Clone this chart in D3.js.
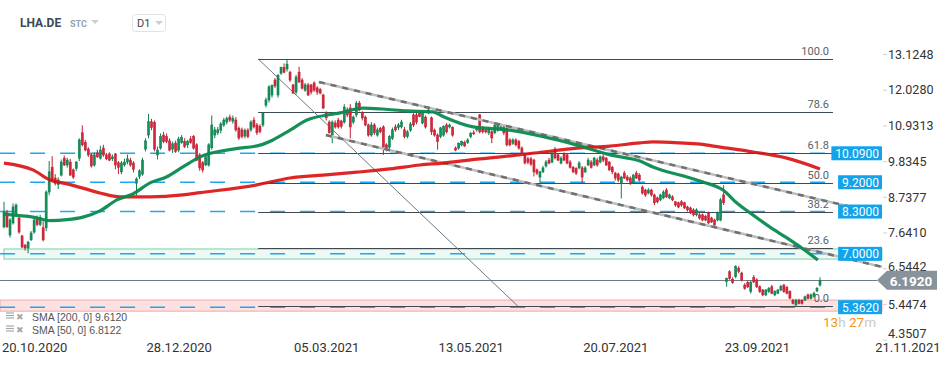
<!DOCTYPE html>
<html>
<head>
<meta charset="utf-8">
<script src="https://cdn.jsdelivr.net/npm/d3@7"></script>
<style>
  body { margin: 0; background: #fff; }
  svg { display: block; font-family: Roboto, "Noto Sans", sans-serif; }
</style>
</head>
<body>
<svg class="chart" width="950" height="365"></svg>
<script>
// daily candles LHA.DE, [open, high, low, close]
var candles = [
  [7.83,8.60,7.78,8.29],[8.26,8.35,7.80,7.83],[7.58,8.10,7.50,8.04],[7.95,8.55,7.90,8.44],[8.20,8.55,8.15,8.50],
  [8.10,8.15,7.62,7.67],[7.55,7.58,7.18,7.21],[7.27,7.30,7.10,7.18],[7.18,7.40,7.02,7.36],[7.43,7.70,7.40,7.64],
  [7.67,8.10,7.62,8.04],[8.10,8.18,7.85,7.90],[7.90,8.20,7.85,8.12],[7.80,8.00,7.38,7.43],[7.80,8.95,7.70,8.90],
  [8.90,9.85,8.80,9.52],[9.66,10.00,9.20,9.27],[9.33,9.45,9.10,9.17],[9.13,9.35,8.99,9.27],[9.42,9.90,9.38,9.82],
  [9.94,10.02,9.70,9.73],[9.73,9.95,9.65,9.88],[9.82,9.92,9.40,9.42],[9.58,9.62,9.30,9.36],[9.63,9.85,9.55,9.82],
  [9.94,10.55,9.85,10.50],[10.72,10.95,10.30,10.35],[10.42,10.50,10.15,10.19],[10.22,10.28,9.98,10.04],[10.04,10.10,9.65,9.70],
  [9.73,10.12,9.68,10.04],[10.10,10.20,9.95,9.98],[9.94,10.32,9.90,10.19],[10.25,10.35,9.98,10.04],[10.04,10.10,9.88,9.92],
  [10.07,10.12,9.85,9.88],[9.92,10.05,9.85,9.98],[10.07,10.10,9.60,9.73],[9.80,9.85,9.45,9.66],[9.52,9.85,9.45,9.79],
  [9.73,9.92,9.68,9.82],[9.82,10.05,9.75,9.92],[9.88,9.95,9.68,9.73],[9.79,9.85,9.50,9.60],[9.17,9.35,8.80,9.30],
  [9.38,9.60,9.30,9.55],[9.45,9.95,9.40,9.88],[10.22,10.55,10.15,10.47],[10.65,11.30,10.55,11.06],[11.06,11.15,10.80,10.88],
  [11.03,11.10,10.15,10.22],[10.04,10.30,9.90,10.19],[10.25,10.70,10.20,10.60],[10.65,10.75,10.40,10.45],[10.60,10.70,10.40,10.45],
  [10.47,10.55,10.15,10.19],[10.22,10.45,10.10,10.38],[10.40,10.48,10.10,10.15],[10.19,10.60,10.12,10.53],[10.42,10.65,10.38,10.57],
  [10.45,10.55,10.25,10.30],[10.35,10.50,10.25,10.45],[10.53,10.62,10.38,10.42],[10.60,10.65,10.20,10.25],
  [10.35,10.40,9.85,9.88],[10.04,10.10,9.55,9.64],[9.80,9.85,9.50,9.58],[9.73,10.05,9.70,9.98],[9.73,10.40,9.68,10.35],
  [10.26,11.25,10.20,10.96],[10.65,10.90,10.55,10.81],[10.72,10.90,10.65,10.81],[10.80,11.05,10.70,10.99],[10.96,11.18,10.90,11.11],
  [11.05,11.22,10.98,11.16],[11.20,11.28,11.05,11.11],[11.08,11.25,11.00,11.16],[11.11,11.20,10.75,10.81],[10.86,10.92,10.50,10.56],
  [10.81,10.88,10.55,10.60],[10.62,10.85,10.55,10.80],[10.80,10.86,10.55,10.60],[10.81,11.10,10.75,11.05],[11.11,11.20,10.85,10.90],
  [10.96,11.02,10.65,10.72],[10.92,10.98,10.70,10.76],[10.96,11.35,10.90,11.32],[11.57,11.80,11.50,11.73],[11.73,12.18,11.65,12.13],
  [11.88,12.20,11.80,12.18],[12.34,12.40,12.10,12.16],[11.88,12.52,11.80,12.49],[12.55,12.75,12.50,12.73],[12.73,12.85,12.55,12.58],
  [12.68,12.97,12.60,12.83],[12.58,12.62,12.28,12.34],[12.19,12.22,11.92,11.94],[11.97,12.50,11.90,12.43],[12.58,12.75,12.25,12.28],
  [12.34,12.40,12.05,12.09],[12.03,12.25,11.98,12.19],[12.19,12.25,11.85,11.88],[12.19,12.22,11.90,11.97],[12.25,12.30,11.98,12.03],
  [12.10,12.15,11.88,11.97],[12.05,12.10,11.90,11.94],[11.88,11.92,11.45,11.48],[11.33,11.38,11.10,11.18],[11.05,11.10,10.70,10.72],
  [10.65,11.10,10.40,11.05],[11.02,11.10,10.85,10.90],[11.11,11.18,10.85,10.90],[11.08,11.12,10.85,10.92],[11.05,11.60,11.00,11.51],
  [11.42,11.50,11.20,11.27],[11.48,11.60,10.55,10.90],[11.05,11.25,10.98,11.20],[11.27,11.70,11.20,11.63],[11.63,11.70,11.38,11.42],
  [11.33,11.38,11.10,11.18],[11.20,11.25,10.92,10.96],[10.96,11.00,10.60,10.65],[10.65,11.05,10.60,10.96],[10.96,11.02,10.65,10.72],
  [10.65,10.88,10.60,10.81],[10.85,10.90,10.70,10.75],[10.90,10.95,10.04,10.28],[10.35,10.40,10.15,10.25],[10.28,10.65,10.20,10.60],
  [10.55,10.88,10.50,10.81],[10.90,10.98,10.75,10.81],[10.88,11.02,10.80,10.96],[10.90,11.12,10.85,11.05],[10.81,10.90,10.55,10.60],
  [10.60,10.80,10.55,10.75],[10.80,11.05,10.75,10.99],[11.27,11.32,10.90,10.96],[11.27,11.35,10.98,11.05],
  [11.33,11.40,11.20,11.22],[11.02,11.38,10.98,11.33],[11.20,11.25,10.85,10.90],[11.33,11.50,11.30,11.42],[11.18,11.22,10.65,10.75],
  [10.80,10.85,10.60,10.65],[10.65,10.70,10.20,10.45],[10.60,10.90,10.55,10.87],[10.65,10.95,10.60,10.92],[10.96,11.02,10.70,10.75],
  [10.90,11.00,10.85,10.96],[10.88,10.92,10.60,10.65],[10.25,10.30,10.15,10.19],[10.25,10.42,10.20,10.40],[10.35,10.48,10.30,10.45],
  [10.42,10.48,10.28,10.32],[10.42,10.55,10.38,10.50],[10.60,10.75,10.55,10.70],[10.72,10.80,10.65,10.69],[10.81,10.92,10.75,10.88],
  [11.27,11.30,10.70,10.75],[10.88,10.92,10.70,10.75],[10.81,10.85,10.70,10.75],[10.72,10.90,10.65,10.86],[10.75,10.80,10.40,10.56],
  [10.72,11.00,10.68,10.96],[10.80,11.00,10.75,10.96],[10.81,10.95,10.78,10.90],[10.90,10.95,10.65,10.72],[10.86,10.92,10.30,10.35],
  [10.50,10.55,10.30,10.35],[10.40,10.55,10.35,10.50],[10.50,10.55,10.30,10.35],[10.45,10.50,10.20,10.25],[10.25,10.30,10.05,10.10],
  [10.04,10.08,9.75,9.79],[9.92,9.98,9.75,9.82],[9.92,9.98,9.70,9.76],[9.88,9.92,9.38,9.52],[9.58,9.62,9.42,9.48],
  [9.36,9.55,9.18,9.52],[9.52,9.70,9.48,9.64],[9.70,9.88,9.65,9.82],[9.88,9.95,9.75,9.79],[9.82,10.15,9.78,10.07],
  [10.22,10.28,9.90,9.95],[10.04,10.08,9.85,9.88],[9.79,10.00,9.75,9.94],[10.07,10.12,9.85,9.88],[10.04,10.08,9.75,9.79],
  [9.82,9.88,9.62,9.66],[9.66,9.70,9.48,9.52],[9.62,9.66,9.42,9.48],[9.64,9.85,9.60,9.79],[9.64,9.70,9.15,9.36],
  [9.52,9.70,9.48,9.64],[9.73,9.95,9.70,9.88],[9.82,9.88,9.62,9.66],[9.73,9.98,9.70,9.94],[9.88,9.95,9.68,9.73],
  [9.82,10.02,9.78,9.98],[9.98,10.05,9.82,9.88],[9.94,9.98,9.70,9.73],[9.82,9.85,9.55,9.58],[9.66,9.70,9.45,9.52],
  [9.48,9.52,9.25,9.33],[9.45,9.50,9.20,9.27],[9.17,9.40,8.70,9.36],[9.48,9.55,9.30,9.33],[9.36,9.42,9.22,9.27],
  [9.33,9.38,9.12,9.20],[9.20,9.45,9.15,9.42],[9.48,9.55,9.30,9.33],[9.42,9.48,9.22,9.27],
  [9.05,9.10,8.82,8.87],[8.96,9.00,8.75,8.81],[8.87,9.02,8.83,8.96],[8.96,9.00,8.76,8.81],[8.81,8.85,8.50,8.57],
  [8.72,8.76,8.55,8.60],[8.66,8.85,8.62,8.81],[8.72,8.95,8.68,8.90],[8.96,9.02,8.72,8.75],[8.72,8.85,8.68,8.81],
  [8.75,8.80,8.62,8.66],[8.60,8.62,8.45,8.50],[8.57,8.60,8.40,8.44],[8.60,8.65,8.45,8.50],[8.57,8.60,8.38,8.41],
  [8.44,8.48,8.30,8.35],[8.41,8.45,8.22,8.26],[8.35,8.40,8.15,8.20],[8.20,8.40,8.15,8.35],[8.20,8.25,8.05,8.10],
  [8.20,8.24,8.00,8.04],[8.15,8.20,8.00,8.04],[8.26,8.30,7.92,7.95],[8.10,8.14,7.95,7.98],[8.04,8.08,7.85,7.89],
  [8.04,8.30,8.00,8.26],[8.04,8.72,8.00,8.66],[8.81,9.11,8.50,8.57],
  [6.15,6.27,5.99,6.25],[6.45,6.50,6.20,6.25],[6.22,6.28,6.08,6.12],[6.30,6.65,6.25,6.61],[6.56,6.62,6.40,6.46],
  [6.41,6.45,6.15,6.20],[6.04,6.10,5.90,5.94],[6.12,6.18,5.95,5.99],[5.84,6.18,5.78,6.12],[6.28,6.35,6.10,6.14],
  [6.20,6.25,5.95,5.99],[5.99,6.03,5.80,5.84],[5.89,5.92,5.70,5.74],[5.74,5.92,5.70,5.89],[5.84,5.98,5.80,5.94],
  [5.99,6.05,5.76,5.79],[5.74,5.88,5.70,5.84],[5.79,5.92,5.76,5.89],[5.89,6.05,5.85,6.00],[6.04,6.08,5.80,5.84],
  [5.97,6.02,5.76,5.79],[5.84,5.88,5.60,5.64],[5.58,5.62,5.45,5.48],[5.43,5.62,5.38,5.58],[5.58,5.62,5.45,5.48],
  [5.58,5.60,5.44,5.48],[5.58,5.72,5.55,5.68],[5.74,5.78,5.60,5.63],[5.63,5.78,5.60,5.74],[5.69,5.84,5.65,5.79],
  [5.86,5.98,5.82,5.94],[6.04,6.28,6.00,6.19]
];

// x axis: candle index of each date label
var dateIdx = [0, 48, 97, 145, 193, 240, 290];
var dateLabels = ["20.10.2020", "28.12.2020", "05.03.2021", "13.05.2021", "20.07.2021", "23.09.2021", "21.11.2021"];

// price axis
var priceTicks = [13.1248, 12.0280, 10.9313, 9.8345, 8.7377, 7.6410, 6.5442, 5.4474, 4.3507];

// moving averages, sampled by candle index
var sma200Idx = [0, 9.6, 15.3, 20.9, 26.2, 31.9, 38.5, 48.5, 59.4, 65.1, 84, 95, 105.9, 117.2, 128.2, 138.2, 145.8, 157.1, 168.1, 179, 190.3, 201.3, 211.2, 215.5, 224.5, 231.2, 237.8, 248.8, 260, 271];
var sma200 = [9.79, 9.58, 9.27, 9.15, 9.02, 8.87, 8.75, 8.75, 8.81, 8.88, 9.12, 9.33, 9.42, 9.51, 9.61, 9.73, 9.79, 9.91, 10.01, 10.13, 10.25, 10.31, 10.41, 10.44, 10.41, 10.37, 10.28, 10.13, 9.94, 9.61];
var sma50Idx = [0, 4.3, 9.6, 15.3, 20.9, 26.2, 31.9, 37.5, 42.8, 48.5, 54.1, 59.4, 65.1, 76.1, 85, 89.3, 95, 100.6, 111.6, 119.2, 125.9, 133.8, 142.5, 145.8, 155.8, 167.1, 178, 190.3, 201.3, 211.2, 215.5, 226.8, 232.1, 238.8, 243.4, 248.8, 254.4, 260, 265.4, 270.3];
var sma50 = [8.22, 8.18, 8.13, 8.02, 8.05, 8.13, 8.32, 8.66, 8.84, 9.18, 9.37, 9.67, 9.98, 10.22, 10.34, 10.50, 10.80, 11.11, 11.33, 11.48, 11.45, 11.39, 11.36, 11.22, 10.90, 10.81, 10.62, 10.34, 10.04, 9.85, 9.67, 9.36, 9.21, 8.96, 8.56, 8.19, 7.82, 7.49, 7.15, 6.81];

// legend rows
var legendNames = ["SMA [200,  0]", "SMA [50,  0]"];
var legendValues = ["9.6120", "6.8122"];

// horizontal levels (blue dashed, labelled)
var levels = [10.09, 9.2, 8.3, 7.0, 5.362];

// fibonacci retracement
var fibPct = [100.0, 78.6, 61.8, 50.0, 38.2, 23.6, 0.0];
var fibHigh = 12.99, fibLow = 5.39;
var fibFrom = 84.4, fibTo = 275.3;

// drawn trend lines [index, price]
var trendLine = [[84.4, 12.99], [170.7, 5.39]];
var channelTop = [[104.6, 12.28], [291.6, 8.22]];
var channelBottom = [[106.9, 10.65], [291.6, 6.60]];

// zones [low, high]
var greenZone = [6.84, 7.15];
var redZone = [5.24, 5.58];

var lastPrice = 6.192;

var svg = d3.select(".chart"),
    plotRight = 882;

var x = d3.scaleLinear()
    .domain([0, candles.length - 1])
    .range([4, 820]);

var y = d3.scaleLinear()
    .domain([4.3507, 13.1248])
    .range([340.1, 54.5]);

var endIdx = x.invert(plotRight);

// zones
svg.append("rect")
    .attr("x", x(-1.3))
    .attr("y", y(redZone[1]))
    .attr("width", x(endIdx) - x(-1.3))
    .attr("height", y(redZone[0]) - y(redZone[1]))
    .attr("fill", "#fde0e0")
    .attr("stroke", "#f3a9a9");

svg.append("rect")
    .attr("x", x(0))
    .attr("y", y(greenZone[1]))
    .attr("width", x(endIdx) - x(0))
    .attr("height", y(greenZone[0]) - y(greenZone[1]))
    .attr("fill", "#eff9f4")
    .attr("stroke", "#72d3ab");

// level lines
svg.selectAll(".level")
  .data(levels)
  .enter().append("line")
    .attr("class", "level")
    .attr("x1", x(-1.3))
    .attr("x2", x(fibTo))
    .attr("y1", function(d) { return y(d); })
    .attr("y2", function(d) { return y(d); })
    .attr("stroke", "#1ea6ee")
    .attr("stroke-width", 1.5)
    .attr("stroke-dasharray", "15,15");

// fib lines
var fibPrice = function(p) { return fibLow + (fibHigh - fibLow) * p / 100; };

svg.selectAll(".fib")
  .data(fibPct)
  .enter().append("line")
    .attr("class", "fib")
    .attr("x1", x(fibFrom))
    .attr("x2", x(fibTo))
    .attr("y1", function(d) { return Math.round(y(fibPrice(d))) + 0.5; })
    .attr("y2", function(d) { return Math.round(y(fibPrice(d))) + 0.5; })
    .attr("stroke", "#3e4a54")
    .attr("stroke-width", 1);

svg.selectAll(".fibLabel")
  .data(fibPct)
  .enter().append("text")
    .attr("class", "fibLabel")
    .attr("x", x(fibTo) - 4)
    .attr("y", function(d) { return y(fibPrice(d)) - 4; })
    .attr("text-anchor", "end")
    .attr("font-size", "11px")
    .attr("fill", "#56626c")
    .text(function(d) { return d.toFixed(1); });

// last price line
svg.append("line")
    .attr("x1", x(-1.3))
    .attr("x2", plotRight - 5)
    .attr("y1", Math.round(y(lastPrice)) + 0.5)
    .attr("y2", Math.round(y(lastPrice)) + 0.5)
    .attr("stroke", "#6f7a83")
    .attr("stroke-width", 1);

var seg = d3.line()
    .x(function(d) { return x(d[0]); })
    .y(function(d) { return y(d[1]); });

svg.append("path")
    .attr("d", seg(trendLine))
    .attr("fill", "none")
    .attr("stroke", "#6c7882")
    .attr("stroke-width", 1);

// candles
var candle = svg.append("g")
    .selectAll("g")
    .data(candles)
    .enter().append("g")
    .attr("fill", function(d) { return d[3] >= d[0] ? "#13915a" : "#d3283b"; })
    .attr("stroke", function(d) { return d[3] >= d[0] ? "#0f7d4d" : "#c21f31"; });

candle.append("line")
    .attr("x1", function(d, i) { return x(i); })
    .attr("x2", function(d, i) { return x(i); })
    .attr("y1", function(d) { return y(d[1]); })
    .attr("y2", function(d) { return y(d[2]); })
    .attr("stroke-width", 1);

candle.append("rect")
    .attr("x", function(d, i) { return x(i) - 1; })
    .attr("y", function(d) { return y(Math.max(d[0], d[3])); })
    .attr("width", 2)
    .attr("height", function(d) { return Math.max(1, Math.abs(y(d[0]) - y(d[3]))); })
    .attr("stroke-width", 0.6);

// channel lines
[channelTop, channelBottom].forEach(function(c) {
  svg.append("path")
      .attr("d", seg(c))
      .attr("fill", "none")
      .attr("stroke", "#bdbdbd")
      .attr("stroke-width", 2.5);
  svg.append("path")
      .attr("d", seg(c))
      .attr("fill", "none")
      .attr("stroke", "#707070")
      .attr("stroke-width", 2.5)
      .attr("stroke-dasharray", "6,6");
});

// moving averages
var smaLine = d3.line()
    .x(function(d) { return x(d[0]); })
    .y(function(d) { return y(d[1]); })
    .curve(d3.curveMonotoneX);

svg.append("path")
    .attr("d", smaLine(d3.zip(sma200Idx, sma200)))
    .attr("fill", "none")
    .attr("stroke", "#d90f0f")
    .attr("stroke-opacity", 0.9)
    .attr("stroke-width", 3.2);

svg.append("path")
    .attr("d", smaLine(d3.zip(sma50Idx, sma50)))
    .attr("fill", "none")
    .attr("stroke", "#0a8a50")
    .attr("stroke-opacity", 0.95)
    .attr("stroke-width", 3.2);

// level labels
levels.forEach(function(d) {
  var g = svg.append("g");
  var t = g.append("text")
      .attr("x", plotRight - 3)
      .attr("y", y(d))
      .attr("dy", "0.36em")
      .attr("text-anchor", "end")
      .attr("font-size", "12px")
      .attr("fill", "#fff")
      .text(d.toFixed(4));
  var w = t.node().getComputedTextLength();
  g.insert("rect", "text")
      .attr("x", plotRight - w - 7)
      .attr("y", y(d) - 7)
      .attr("width", w + 7)
      .attr("height", 14)
      .attr("fill", "#12a3ea");
});

// price axis
var axis = svg.append("g");

axis.selectAll("line")
  .data(priceTicks)
  .enter().append("line")
    .attr("x1", plotRight + 1)
    .attr("x2", plotRight + 5)
    .attr("y1", function(d) { return y(d); })
    .attr("y2", function(d) { return y(d); })
    .attr("stroke", "#cfd3d6");

axis.selectAll("text")
  .data(priceTicks)
  .enter().append("text")
    .attr("x", plotRight + 6)
    .attr("y", function(d, i) { return y(d) - (i === priceTicks.length - 1 ? 6 : 0) - (d === 6.5442 ? 1.5 : 0); })
    .attr("dy", "0.34em")
    .attr("font-size", "12.5px")
    .attr("fill", "#333")
    .text(function(d) { return d.toFixed(4); });

// last price tag
var tagY = y(lastPrice);
svg.append("path")
    .attr("d", "M" + (plotRight - 5) + "," + tagY +
               "L" + (plotRight + 5) + "," + (tagY - 9.5) +
               "L937," + (tagY - 9.5) + "L937," + (tagY + 9.5) +
               "L" + (plotRight + 5) + "," + (tagY + 9.5) + "Z")
    .attr("fill", "#88929a");

svg.append("text")
    .attr("x", 911)
    .attr("y", tagY + 1)
    .attr("dy", "0.34em")
    .attr("text-anchor", "middle")
    .attr("font-size", "13.5px")
    .attr("font-weight", "bold")
    .attr("fill", "#fff")
    .text(lastPrice.toFixed(4));

// date axis
svg.selectAll(".date")
  .data(dateIdx)
  .enter().append("text")
    .attr("class", "date")
    .attr("x", function(d) { return x(d) - 2; })
    .attr("y", 352)
    .attr("font-size", "13px")
    .attr("fill", "#333")
    .text(function(d, i) { return dateLabels[i]; });

// countdown
var cd = svg.append("text")
    .attr("x", 823)
    .attr("y", 327)
    .attr("font-size", "13.5px");
cd.append("tspan").attr("fill", "#f7941d").text("13");
cd.append("tspan").attr("fill", "#c9c9c9").text("h ");
cd.append("tspan").attr("fill", "#f7941d").text("27");
cd.append("tspan").attr("fill", "#c9c9c9").text("m");

// legend
var leg = svg.append("g")
  .selectAll("g")
  .data(legendNames)
  .enter().append("g")
    .attr("transform", function(d, i) { return "translate(0," + (i * 13) + ")"; });

[0, 2.5, 5].forEach(function(o) {
  leg.append("line")
      .attr("x1", 6).attr("x2", 14)
      .attr("y1", 313 + o).attr("y2", 313 + o)
      .attr("stroke", "#a4a9ad")
      .attr("stroke-width", 1.2);
});

leg.append("text")
    .attr("x", 15.5)
    .attr("y", 320)
    .attr("font-size", "9px")
    .attr("fill", "#a4a9ad")
    .text("✖");

leg.append("text")
    .attr("x", 32)
    .attr("y", 321)
    .attr("font-family", "'Liberation Sans', Arial, sans-serif")
    .attr("font-size", "10.5px")
    .attr("fill", "#555")
    .text(function(d, i) { return d + " " + legendValues[i]; });

// header
svg.append("text")
    .attr("x", 20)
    .attr("y", 27)
    .attr("font-size", "12px")
    .attr("font-weight", "bold")
    .attr("fill", "#3d4852")
    .text("LHA.DE");

svg.append("text")
    .attr("x", 70)
    .attr("y", 27)
    .attr("font-size", "9px")
    .attr("font-weight", "bold")
    .attr("fill", "#93a2ae")
    .text("STC");

svg.append("path")
    .attr("d", "M91,20L99,20L95,24Z")
    .attr("fill", "#cbd0d4");

svg.append("rect")
    .attr("x", 132.5)
    .attr("y", 14.5)
    .attr("width", 33)
    .attr("height", 17)
    .attr("rx", 3)
    .attr("fill", "#fff")
    .attr("stroke", "#dfe3e6");

svg.append("text")
    .attr("x", 137)
    .attr("y", 27)
    .attr("font-size", "11px")
    .attr("fill", "#444")
    .text("D1");

svg.append("path")
    .attr("d", "M155,21L163,21L159,25Z")
    .attr("fill", "#cbd0d4");
</script>
</body>
</html>
